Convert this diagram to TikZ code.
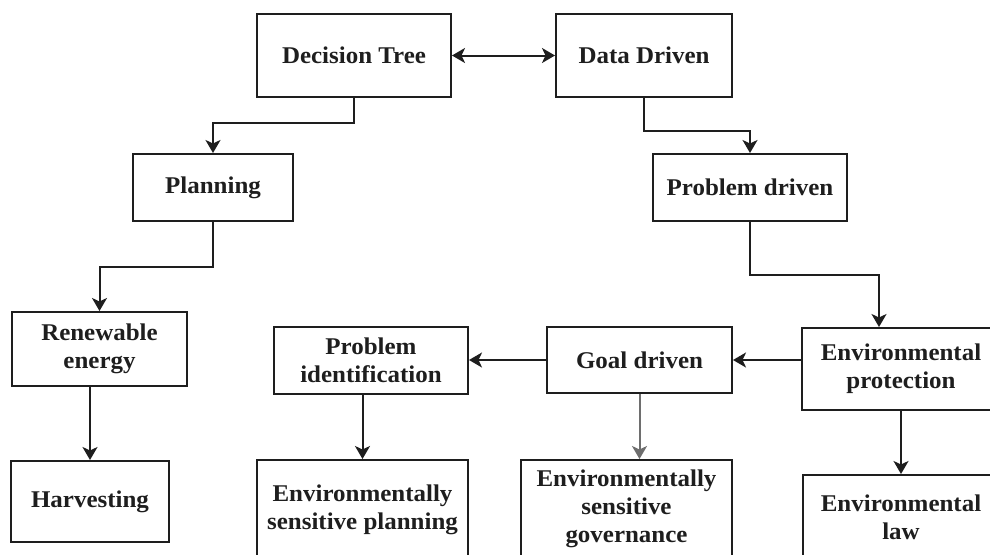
\documentclass[tikz,border=0pt]{standalone}
\usepackage{fontspec}
\setmainfont{Liberation Serif}[FakeStretch=1.04]
\usetikzlibrary{arrows.meta,calc}
\definecolor{ink}{HTML}{1E1E1E}
\definecolor{grayarrow}{HTML}{6E6E6E}
\tikzset{
  box/.style={draw=ink, line width=2pt, rectangle, align=center, text=ink,
    font=\fontsize{24}{28}\selectfont\bfseries, inner sep=0pt},
  tip/.style={Stealth[length=13pt,width=15pt,inset=3.5pt]},
  arr/.style={draw=ink, line width=2pt, -{Stealth[length=13pt,width=15pt,inset=3.5pt]}},
  dblarr/.style={draw=ink, line width=2pt, {Stealth[length=13pt,width=15pt,inset=3.5pt]}-{Stealth[length=13pt,width=15pt,inset=3.5pt]}},
}
\begin{document}
\begin{tikzpicture}[x=1pt,y=-1pt]
\useasboundingbox (0,0) rectangle (990,554);
\fill[white] (0,0) rectangle (990,554);
\clip (0,0) rectangle (990,554);
\node[box, minimum width=194pt, minimum height=83pt] (dt) at (354,55.5) {Decision Tree};
\node[box, minimum width=176pt, minimum height=83pt] (dd) at (644,55.5) {Data Driven};
\node[box, minimum width=160pt, minimum height=67pt] (pl) at (213,187.5) {Planning};
\node[box, minimum width=194pt, minimum height=67pt] (pd) at (750,187.5) {Problem driven};
\node[box, minimum width=175pt, minimum height=74pt] (re) at (99.5,349) {Renewable\\energy};
\node[box, minimum width=158pt, minimum height=81pt] (hv) at (90,501.5) {Harvesting};
\node[box, minimum width=194pt, minimum height=67pt] (pi) at (371,360.5) {Problem\\identification};
\node[box, minimum width=185pt, minimum height=66pt] (gd) at (639.5,360) {Goal driven};
\node[box, minimum width=198pt, minimum height=82pt] (ep) at (901,369) {Environmental\\protection};
\node[box, minimum width=196pt, minimum height=85pt] (el) at (901,517.5) {Environmental\\law};
\node[box, minimum width=211pt, minimum height=100pt] (esp) at (362.5,510) {Environmentally\\sensitive planning};
\node[box, minimum width=211pt, minimum height=98pt] (esg) at (626.5,509) {Environmentally\\sensitive\\governance};
\coordinate (epin) at ([xshift=-22pt]ep.north);
\draw[dblarr] (dt.east) -- (dd.west);
\draw[arr] (dt.south) -- ++(0,25) -| (pl.north);
\draw[arr] (dd.south) -- ++(0,33) -| (pd.north);
\draw[arr] (pl.south) -- ++(0,45) -| (re.north);
\draw[arr] (pd.south) -- ++(0,53) -| (epin);
\draw[arr] (re.south -| hv.north) -- (hv.north);
\draw[arr] (ep.west |- gd.east) -- (gd.east);
\draw[arr] (gd.west) -- (pi.east |- gd.west);
\draw[arr] (pi.south -| esp.north) -- (esp.north);
\draw[arr, draw=grayarrow] (gd.south) -- (esg.north -| gd.south);
\draw[arr] (ep.south) -- (el.north);
\end{tikzpicture}
\end{document}
